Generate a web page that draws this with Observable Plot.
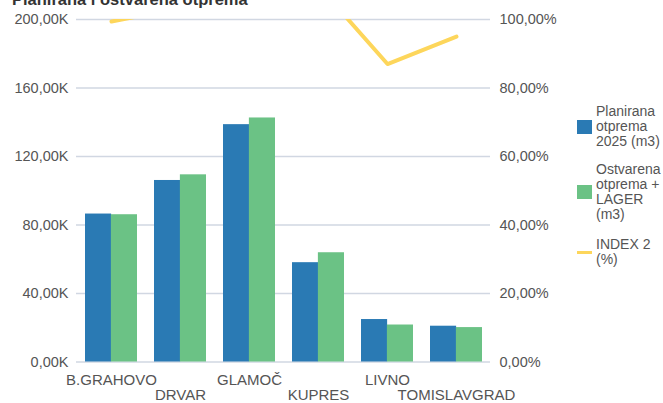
<!DOCTYPE html>
<html>
<head>
<meta charset="utf-8">
<script src="https://cdn.jsdelivr.net/npm/d3@7"></script>
<script src="https://cdn.jsdelivr.net/npm/@observablehq/plot@0.6"></script>
<style>
  html, body { margin: 0; padding: 0; background: #fff; }
  body { width: 663px; height: 403px; overflow: hidden; position: relative; font-family: "Liberation Sans", Arial, sans-serif; }
  #title { position: absolute; left: 12px; top: -9.5px; line-height: 16px; font-size: 16.5px; font-weight: bold; color: #333; white-space: nowrap; }
  #chart { position: absolute; left: 0; top: 0; }
  .item { position: absolute; left: 577px; display: flex; align-items: center; }
  .sw { width: 15px; height: 14px; flex: none; }
  .ln { width: 15px; height: 3px; flex: none; }
  .lab { margin-left: 4px; width: 68px; font-size: 14px; line-height: 15px; color: #555; }
</style>
</head>
<body>
<div id="chart"></div>
<div id="title">Planirana i ostvarena otprema</div>
<div id="legend"></div>
<script>
const categories = ["B.GRAHOVO", "DRVAR", "GLAMOČ", "KUPRES", "LIVNO", "TOMISLAVGRAD"];
const planirana = [86400, 106000, 138600, 58000, 24800, 20900];
const ostvarena = [86000, 109300, 142500, 63800, 21600, 20100];
const index2 = [99.4, 103.4, 102.8, 109.8, 87.0, 95.0];
const yTicks = [0, 40000, 80000, 120000, 160000, 200000];
const yTickLabels = ["0,00K", "40,00K", "80,00K", "120,00K", "160,00K", "200,00K"];
const pctTickLabels = ["0,00%", "20,00%", "40,00%", "60,00%", "80,00%", "100,00%"];
const seriesNames = ["Planirana otprema 2025 (m3)", "Ostvarena otprema + LAGER (m3)", "INDEX 2 (%)"];
const colors = ["#2a7ab4", "#6bc285", "#fdd65b"];

const rows = categories.map((c, i) => ({category: c, planirana: planirana[i], ostvarena: ostvarena[i], index: index2[i]}));
// secondary axis: 100% on the right maps to 200K on the left
const pctToY = p => p / 100 * 200000;

const plot = Plot.plot({
  width: 663,
  height: 403,
  marginLeft: 76,
  marginRight: 173,
  marginTop: 19,
  marginBottom: 41.5,
  style: {fontFamily: "'Liberation Sans', Arial, sans-serif", fontSize: "14.5px", color: "#555", background: "transparent"},
  x: {type: "band", domain: categories, paddingInner: 0.25, paddingOuter: 0.125},
  y: {domain: [0, 200000]},
  marks: [
    Plot.gridY(yTicks, {stroke: "#d1d7e2", strokeOpacity: 1, strokeWidth: 1.5}),
    Plot.barY(rows, {x: "category", y: "planirana", fill: colors[0], insetRight: 25.875}),
    Plot.barY(rows, {x: "category", y: "ostvarena", fill: colors[1], insetLeft: 25.875}),
    Plot.line(rows, {x: "category", y: d => pctToY(d.index), stroke: colors[2], strokeWidth: 4, clip: true}),
    Plot.axisY(yTicks, {anchor: "left", tickSize: 0, tickPadding: 8, tickFormat: d => yTickLabels[yTicks.indexOf(d)], label: null}),
    Plot.axisY(yTicks, {anchor: "right", tickSize: 0, tickPadding: 9, tickFormat: d => pctTickLabels[yTicks.indexOf(d)], label: null}),
    Plot.axisX(categories.filter((d, i) => i % 2 === 0), {tickSize: 0, tickPadding: 12, fontSize: 15, label: null}),
    Plot.axisX(categories.filter((d, i) => i % 2 === 1), {tickSize: 0, tickPadding: 27, fontSize: 15, label: null})
  ]
});
document.getElementById("chart").appendChild(plot);

const legend = document.getElementById("legend");
const tops = [104, 162, 237];
seriesNames.forEach((name, i) => {
  const item = document.createElement("div");
  item.className = "item";
  item.style.top = tops[i] + "px";
  const sw = document.createElement("div");
  sw.className = i === 2 ? "ln" : "sw";
  sw.style.background = colors[i];
  const lab = document.createElement("div");
  lab.className = "lab";
  lab.textContent = name;
  item.appendChild(sw);
  item.appendChild(lab);
  legend.appendChild(item);
});
</script>
</body>
</html>
